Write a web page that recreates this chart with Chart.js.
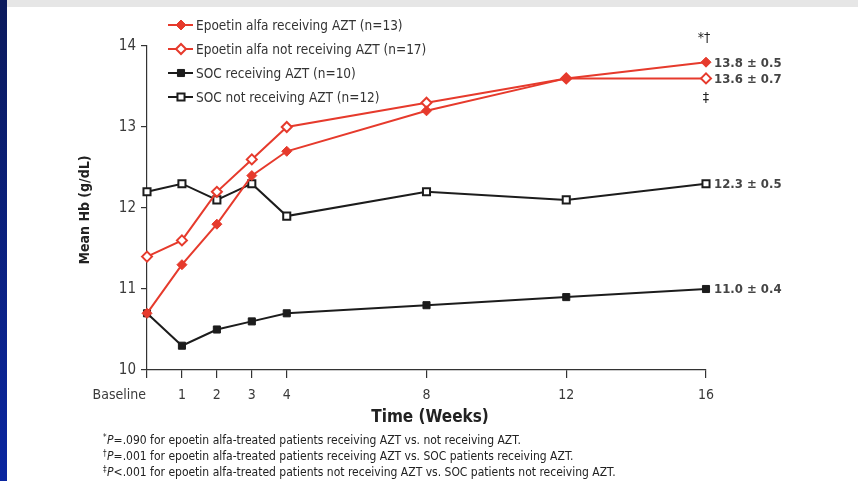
<!DOCTYPE html>
<html>
<head>
<meta charset="utf-8">
<title>Mean Hb over time</title>
<script src="https://cdn.jsdelivr.net/npm/chart.js@4.4.1/dist/chart.umd.min.js"></script>
<style>
  html, body { margin: 0; padding: 0; background: #fff; }
  canvas { display: block; }
</style>
</head>
<body>
<canvas id="hb-chart" width="858" height="481"></canvas>
<script>
// weeks from baseline
const weeks = [0, 1, 2, 3, 4, 8, 12, 16];
const weekLabels = ["Baseline", "1", "2", "3", "4", "8", "12", "16"];

// mean Hb (g/dL)
const epoetinAzt = [10.7, 11.3, 11.8, 12.4, 12.7, 13.2, 13.6, 13.8];
const epoetinNoAzt = [11.4, 11.6, 12.2, 12.6, 13.0, 13.3, 13.6, 13.6];
const socAzt = [10.7, 10.3, 10.5, 10.6, 10.7, 10.8, 10.9, 11.0];
const socNoAzt = [12.2, 12.3, 12.1, 12.3, 11.9, 12.2, 12.1, 12.3];

const seriesNames = [
	"Epoetin alfa receiving AZT (n=13)",
	"Epoetin alfa not receiving AZT (n=17)",
	"SOC receiving AZT (n=10)",
	"SOC not receiving AZT (n=12)",
];
const endLabels = ["13.8 \u00b1 0.5", "13.6 \u00b1 0.7", "11.0 \u00b1 0.4", "12.3 \u00b1 0.5"];

const footnotes = [
	["*", "P", "=.090 for epoetin alfa-treated patients receiving AZT vs. not receiving AZT."],
	["\u2020", "P", "=.001 for epoetin alfa-treated patients receiving AZT vs. SOC patients receiving AZT."],
	["\u2021", "P", "<.001 for epoetin alfa-treated patients not receiving AZT vs. SOC patients not receiving AZT."],
];

const RED = "#e63a2c";
const BLACK = "#1c1c1c";
const NARROW = "'Liberation Sans Narrow', 'DejaVu Sans Condensed', Arial, sans-serif";

const toPoints = (vals) => weeks.map((w, i) => ({ x: w, y: vals[i] }));

function makeSet(label, vals, color, filled, style, radius) {
	return {
		label: label,
		data: toPoints(vals),
		borderColor: color,
		backgroundColor: filled ? color : "#fff",
		pointBackgroundColor: filled ? color : "#fff",
		pointBorderColor: color,
		pointBorderWidth: filled ? 1 : 2,
		pointStyle: style,
		pointRadius: radius,
		borderWidth: 2,
		tension: 0,
		clip: false,
	};
}

// background, legend, labels and notes
const decorations = {
	id: "decorations",
	beforeDraw(chart) {
		const ctx = chart.ctx;
		ctx.save();
		ctx.fillStyle = "#fff";
		ctx.fillRect(0, 0, chart.width, chart.height);
		ctx.fillStyle = "#e6e6e6";
		ctx.fillRect(0, 0, chart.width, 7);
		const g = ctx.createLinearGradient(0, 0, 0, chart.height);
		g.addColorStop(0, "#0b1a5c");
		g.addColorStop(1, "#0a26a0");
		ctx.fillStyle = g;
		ctx.fillRect(0, 0, 7, chart.height);
		ctx.restore();
	},
	afterDraw(chart) {
		const ctx = chart.ctx;
		const xs = chart.scales.x;
		const ys = chart.scales.y;
		ctx.save();

		// x tick labels
		ctx.fillStyle = "#3a3a3a";
		ctx.font = "14px " + NARROW;
		ctx.textBaseline = "middle";
		weeks.forEach((w, i) => {
			const px = xs.getPixelForValue(w);
			ctx.textAlign = i === 0 ? "right" : "center";
			ctx.fillText(weekLabels[i], i === 0 ? px - 1 : px, 395);
		});

		// axis titles
		ctx.fillStyle = "#222";
		ctx.font = "bold 17px " + NARROW;
		ctx.textAlign = "center";
		ctx.fillText("Time (Weeks)", 430, 418);
		ctx.save();
		ctx.translate(85, 210);
		ctx.rotate(-Math.PI / 2);
		ctx.font = "bold 14px " + NARROW;
		ctx.fillText("Mean Hb (g/dL)", 0, 0);
		ctx.restore();

		// legend
		chart.data.datasets.forEach((ds, i) => {
			const y = 25 + i * 24;
			ctx.strokeStyle = ds.borderColor;
			ctx.lineWidth = 2;
			ctx.beginPath();
			ctx.moveTo(168, y);
			ctx.lineTo(193, y);
			ctx.stroke();
			ctx.fillStyle = ds.pointBackgroundColor;
			ctx.lineWidth = ds.pointBorderWidth;
			Chart.helpers.drawPoint(ctx, { pointStyle: ds.pointStyle, radius: ds.pointRadius, borderWidth: ds.pointBorderWidth, rotation: 0 }, 181, y);
			ctx.fillStyle = "#333";
			ctx.font = "13.5px " + NARROW;
			ctx.textAlign = "left";
			ctx.fillText(seriesNames[i], 196, y + 1);
		});

		// end values
		ctx.fillStyle = "#444";
		ctx.font = "bold 13px " + NARROW;
		ctx.textAlign = "left";
		chart.data.datasets.forEach((ds, i) => {
			const last = ds.data[ds.data.length - 1];
			ctx.fillText(endLabels[i], xs.getPixelForValue(last.x) + 8, ys.getPixelForValue(last.y) + 1);
		});
		ctx.fillStyle = "#222";
		ctx.font = "14px " + NARROW;
		ctx.textAlign = "center";
		ctx.fillText("*\u2020", 704, 38);
		ctx.fillText("\u2021", 706, 98);

		// footnotes
		ctx.fillStyle = "#222";
		ctx.textAlign = "left";
		footnotes.forEach((f, i) => {
			const y = 441 + i * 16;
			let x = 103;
			ctx.font = "8px " + NARROW;
			ctx.fillText(f[0], x, y - 3);
			x += ctx.measureText(f[0]).width + 0.5;
			ctx.font = "italic 12px " + NARROW;
			ctx.fillText(f[1], x, y);
			x += ctx.measureText(f[1]).width;
			ctx.font = "12px " + NARROW;
			ctx.fillText(f[2], x, y);
		});
		ctx.restore();
	},
};

new Chart(document.getElementById("hb-chart"), {
	type: "line",
	data: {
		datasets: [
			makeSet(seriesNames[0], epoetinAzt, RED, true, "rectRot", 5),
			makeSet(seriesNames[1], epoetinNoAzt, RED, false, "rectRot", 5),
			makeSet(seriesNames[2], socAzt, BLACK, true, "rect", 5),
			makeSet(seriesNames[3], socNoAzt, BLACK, false, "rect", 5),
		],
	},
	options: {
		responsive: false,
		animation: false,
		layout: { padding: { left: 0, top: 46, right: 152, bottom: 0 } },
		plugins: {
			legend: { display: false },
			tooltip: { enabled: false },
		},
		scales: {
			x: {
				type: "linear",
				min: 0,
				max: 16,
				afterBuildTicks: (s) => { s.ticks = weeks.map((w) => ({ value: w })); },
				afterFit: (s) => { s.height = 111; },
				ticks: { display: false },
				grid: { drawOnChartArea: false, tickLength: 8, color: "#333", lineWidth: 1.2 },
				border: { color: "#333", width: 1.2 },
			},
			y: {
				min: 10,
				max: 14,
				afterFit: (s) => { s.width = 147; },
				ticks: {
					stepSize: 1,
					padding: 5,
					color: "#3a3a3a",
					font: { family: NARROW, size: 15 },
				},
				grid: { drawOnChartArea: false, tickLength: 6, color: "#333", lineWidth: 1.2 },
				border: { color: "#333", width: 1.2 },
			},
		},
	},
	plugins: [decorations],
});
</script>
</body>
</html>
